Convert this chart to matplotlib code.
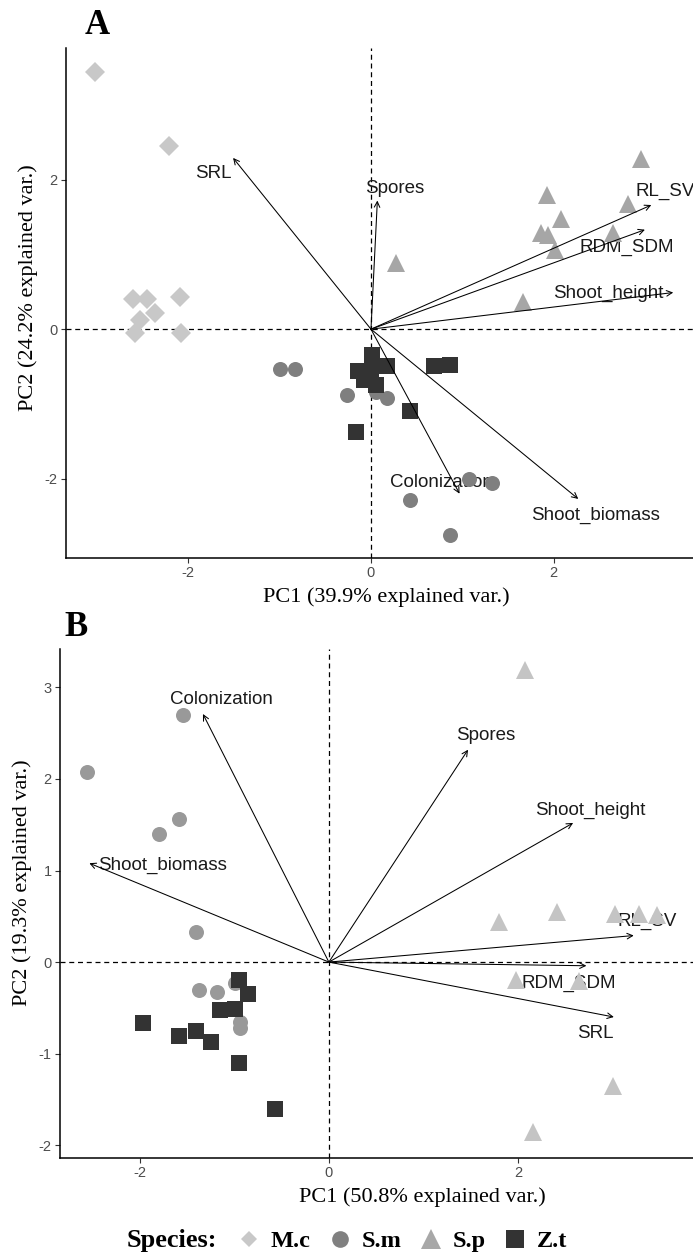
import matplotlib
matplotlib.use("Agg")
import matplotlib.pyplot as plt
from matplotlib.lines import Line2D

plt.rcParams["axes.unicode_minus"] = False

# ---------------- data: panel A ----------------
a_mc_x = [-3.02, -2.21, -2.61, -2.45, -2.09, -2.37, -2.53, -2.58, -2.08]
a_mc_y = [3.44, 2.45, 0.41, 0.40, 0.43, 0.22, 0.12, -0.05, -0.05]
a_sm_x = [-1.00, -0.83, -0.26, -0.01, 0.06, 0.18, 1.07, 1.33, 0.43, 0.86]
a_sm_y = [-0.53, -0.53, -0.88, -0.54, -0.84, -0.92, -2.00, -2.06, -2.29, -2.75]
a_sp_x = [2.96, 1.93, 2.82, 2.08, 1.86, 1.94, 2.65, 2.01, 0.27, 1.67]
a_sp_y = [2.28, 1.79, 1.68, 1.47, 1.28, 1.26, 1.28, 1.06, 0.88, 0.37]
a_zt_x = [0.01, -0.14, 0.18, -0.08, 0.06, 0.00, 0.69, 0.87, 0.43, -0.16]
a_zt_y = [-0.35, -0.56, -0.49, -0.68, -0.74, -0.56, -0.49, -0.48, -1.10, -1.38]

a_vars = ["SRL", "Spores", "RL_SV", "RDM_SDM", "Shoot_height", "Colonization", "Shoot_biomass"]
a_tip_x = [-1.51, 0.07, 3.07, 3.00, 3.31, 0.97, 2.27]
a_tip_y = [2.29, 1.72, 1.66, 1.33, 0.49, -2.20, -2.27]
a_lab_x = [-1.73, 0.26, 3.22, 2.80, 2.60, 0.77, 2.46]
a_lab_y = [2.08, 1.88, 1.84, 1.10, 0.48, -2.05, -2.49]

# ---------------- data: panel B ----------------
b_sm_x = [-1.54, -2.55, -1.58, -1.79, -1.40, -1.37, -1.18, -0.99, -0.94, -0.94]
b_sm_y = [2.70, 2.08, 1.56, 1.40, 0.33, -0.30, -0.33, -0.23, -0.65, -0.72]
b_sp_x = [2.07, 1.80, 2.41, 3.02, 3.28, 3.47, 1.98, 2.64, 3.00, 2.16]
b_sp_y = [3.19, 0.44, 0.55, 0.53, 0.53, 0.51, -0.20, -0.21, -1.35, -1.86]
b_zt_x = [-0.95, -0.85, -1.15, -0.99, -1.96, -1.58, -1.40, -1.25, -0.95, -0.57]
b_zt_y = [-0.20, -0.35, -0.52, -0.51, -0.67, -0.81, -0.75, -0.87, -1.10, -1.61]

b_vars = ["Colonization", "Shoot_biomass", "Spores", "Shoot_height", "RL_SV", "RDM_SDM", "SRL"]
b_tip_x = [-1.33, -2.53, 1.47, 2.58, 3.22, 2.72, 3.01]
b_tip_y = [2.71, 1.08, 2.32, 1.52, 0.29, -0.04, -0.60]
b_lab_x = [-1.13, -1.76, 1.66, 2.76, 3.36, 2.53, 2.81]
b_lab_y = [2.87, 1.06, 2.48, 1.66, 0.44, -0.23, -0.78]

species = ["M.c", "S.m", "S.p", "Z.t"]
a_xticks = [-2, 0, 2]
a_yticks = [-2, 0, 2]
b_xticks = [-2, 0, 2]
b_yticks = [-2, -1, 0, 1, 2, 3]

# ---------------- styling ----------------
W, H = 693, 1254
fig = plt.figure(figsize=(W / 100, H / 100), dpi=100)
fig.patch.set_facecolor("white")

SERIF = "Liberation Serif"
SANS = "Liberation Sans"

MS = {"D": 9.8, "o": 10.8, "^": 13.5, "s": 11.3}


def px_axes(l, r, t, b):
    return [l / W, 1 - b / H, (r - l) / W, (b - t) / H]


def style_axes(ax, xt, yt):
    for s in ["top", "right"]:
        ax.spines[s].set_visible(False)
    for s in ["left", "bottom"]:
        ax.spines[s].set_linewidth(1.1)
        ax.spines[s].set_color("black")
    ax.set_xticks(xt)
    ax.set_yticks(yt)
    ax.tick_params(axis="both", direction="out", length=3.5, width=0.8,
                   color="#333333", labelcolor="#4d4d4d", labelsize=10.5, pad=2.5)
    for lab in ax.get_xticklabels() + ax.get_yticklabels():
        lab.set_fontfamily(SANS)
    ax.axhline(0, color="black", lw=0.9, ls=(0, (4, 3)), zorder=1)
    ax.axvline(0, color="black", lw=0.9, ls=(0, (4, 3)), zorder=1)


def draw_arrows(ax, vars_, tx, ty, lx, ly):
    for v, x, y, a, b in zip(vars_, tx, ty, lx, ly):
        ax.annotate("", xy=(x, y), xytext=(0, 0),
                    arrowprops=dict(arrowstyle="->", color="black", lw=0.75,
                                    shrinkA=0, shrinkB=0, mutation_scale=10),
                    zorder=4)
        ax.text(a, b, v, ha="center", va="center", fontsize=13.5,
                family=SANS, color="#1a1a1a", zorder=2)


# ---------------- panel A ----------------
axA = fig.add_axes(px_axes(66, 707, 48, 558))
axA.set_xlim(-3.34, 3.68)
axA.set_ylim(-3.06, 3.76)
style_axes(axA, a_xticks, a_yticks)
draw_arrows(axA, a_vars, a_tip_x, a_tip_y, a_lab_x, a_lab_y)
axA.plot(a_mc_x, a_mc_y, ls="none", marker="D", ms=MS["D"], color="#c8c8c8", mew=0, zorder=3)
axA.plot(a_sm_x, a_sm_y, ls="none", marker="o", ms=MS["o"], color="#7f7f7f", mew=0, zorder=3)
axA.plot(a_sp_x, a_sp_y, ls="none", marker="^", ms=MS["^"], color="#a6a6a6", mew=0, zorder=3)
axA.plot(a_zt_x, a_zt_y, ls="none", marker="s", ms=MS["s"], color="#333333", mew=0, zorder=3)

# ---------------- panel B ----------------
axB = fig.add_axes(px_axes(60, 700, 649, 1158))
axB.set_xlim(-2.84, 3.92)
axB.set_ylim(-2.14, 3.42)
style_axes(axB, b_xticks, b_yticks)
draw_arrows(axB, b_vars, b_tip_x, b_tip_y, b_lab_x, b_lab_y)
axB.plot(b_sm_x, b_sm_y, ls="none", marker="o", ms=MS["o"], color="#999999", mew=0, zorder=3)
axB.plot(b_sp_x, b_sp_y, ls="none", marker="^", ms=MS["^"], color="#c4c4c4", mew=0, zorder=3)
axB.plot(b_zt_x, b_zt_y, ls="none", marker="s", ms=MS["s"], color="#333333", mew=0, zorder=3)

# ---------------- labels ----------------
def ftext(x, y, s, **kw):
    fig.text(x / W, 1 - y / H, s, **kw)

ftext(97, 26, "A", fontsize=25, family=SERIF, weight="bold", ha="center", va="center")
ftext(76, 627, "B", fontsize=25, family=SERIF, weight="bold", ha="center", va="center")
ftext(386, 597, "PC1 (39.9% explained var.)", fontsize=16, family=SERIF, ha="center", va="center")
ftext(422, 1197, "PC1 (50.8% explained var.)", fontsize=16, family=SERIF, ha="center", va="center")
ftext(28, 288, "PC2 (24.2% explained var.)", fontsize=16, family=SERIF, ha="center", va="center", rotation=90)
ftext(22, 883, "PC2 (19.3% explained var.)", fontsize=16, family=SERIF, ha="center", va="center", rotation=90)

# ---------------- legend ----------------
ftext(172, 1241, "Species:", fontsize=19, family=SERIF, weight="bold", ha="center", va="center")
handles = [
    Line2D([], [], ls="none", marker="D", ms=8.0, color="#c8c8c8", mew=0),
    Line2D([], [], ls="none", marker="o", ms=12.0, color="#808080", mew=0),
    Line2D([], [], ls="none", marker="^", ms=15.0, color="#a8a8a8", mew=0),
    Line2D([], [], ls="none", marker="s", ms=12.5, color="#333333", mew=0),
]
fig.legend(handles, species, loc="center left",
           bbox_to_anchor=(238 / W, 1 - 1241 / H), ncol=4, frameon=False,
           prop=dict(family=SERIF, weight="bold", size=17.5),
           handlelength=0.9, handletextpad=0.45, columnspacing=0.75,
           borderpad=0, borderaxespad=0)

fig.savefig("out.png", dpi=100, facecolor="white")
